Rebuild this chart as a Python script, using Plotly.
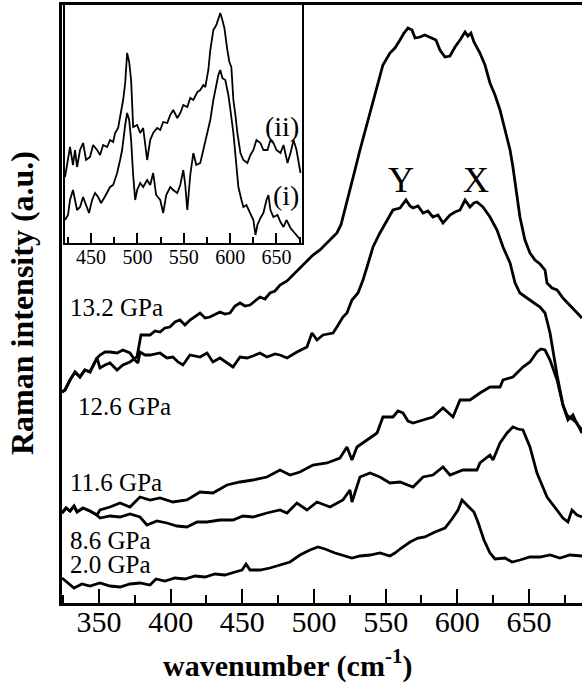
import plotly.graph_objects as go

# ---------------- main panel: wavenumber (cm^-1) vs Raman intensity (a.u.) ----------------
wn_20 = [324.2, 328.4, 332.6, 338.1, 343.7, 350.7, 357.7, 364.7, 371.6, 378.6, 385.6, 389.8, 396.0, 403.0,
         410.0, 417.0, 424.0, 430.9, 437.9, 444.9, 449.8, 452.6, 455.4, 462.3, 469.3, 476.3, 483.3, 490.2,
         497.2, 502.8, 507.7, 514.7, 521.6, 526.5, 532.1, 539.1, 546.0, 553.0, 556.5, 560.0, 567.0, 572.6,
         577.4, 584.4, 591.4, 596.3, 600.5, 603.3, 607.4, 611.6, 614.4, 618.6, 622.8, 626.3, 633.3, 638.2,
         643.7, 650.7, 657.7, 664.7, 671.6, 678.6, 687.0]
int_20 = [25, 20, 15, 19, 17, 20, 17, 16, 19, 20, 18, 24, 22, 25, 24, 27, 26, 29, 28, 31, 33, 39, 33, 33, 35,
          38, 41, 48, 53, 56, 54, 50, 47, 45, 47, 48, 50, 47, 50, 54, 61, 65, 66, 71, 75, 84, 93, 103, 97, 91,
          81, 63, 50, 44, 45, 41, 43, 46, 46, 48, 45, 48, 47]

wn_86 = [324.2, 327.0, 329.8, 332.6, 334.7, 338.8, 343.7, 348.6, 350.7, 357.7, 364.7, 371.6, 378.6, 383.5,
         390.4, 397.4, 404.4, 411.4, 418.4, 425.4, 434.4, 443.5, 450.5, 457.4, 467.2, 476.3, 481.2, 488.1,
         495.1, 502.1, 511.2, 520.2, 525.1, 526.5, 532.1, 539.1, 546.0, 553.0, 560.0, 569.1, 576.1, 583.0,
         590.0, 594.9, 604.0, 613.7, 615.8, 622.8, 624.9, 629.8, 634.7, 638.8, 642.3, 645.8, 650.7, 655.6,
         662.6, 669.6, 673.7, 677.2, 680.0, 683.5, 687.0]
int_86 = [90, 95, 92, 97, 91, 95, 92, 88, 85, 87, 86, 89, 86, 78, 82, 80, 77, 76, 81, 81, 83, 83, 87, 86, 90,
          93, 90, 100, 93, 101, 96, 103, 113, 101, 126, 130, 126, 120, 121, 116, 126, 128, 136, 128, 133, 133,
          140, 148, 143, 160, 170, 176, 174, 173, 156, 130, 106, 93, 85, 81, 93, 88, 86]

wn_116 = [324.2, 327.0, 329.8, 332.6, 334.7, 338.8, 343.7, 348.6, 350.7, 357.7, 364.7, 371.6, 378.6, 385.6,
          392.6, 401.6, 411.4, 420.5, 429.5, 439.3, 448.4, 457.4, 467.2, 476.3, 483.3, 490.2, 499.3, 509.1,
          518.1, 523.0, 526.5, 530.0, 537.0, 544.0, 548.1, 555.1, 558.6, 562.1, 565.6, 569.1, 576.1, 583.0,
          590.0, 597.0, 601.9, 608.8, 615.8, 622.8, 629.8, 631.9, 638.8, 645.8, 650.7, 655.6, 658.4, 661.2,
          664.7, 669.6, 673.7, 677.2, 680.7, 683.5, 687.0]
int_116 = [90, 95, 92, 97, 91, 95, 92, 88, 93, 96, 100, 96, 106, 103, 105, 101, 103, 111, 110, 118, 121, 123,
           126, 133, 128, 131, 138, 140, 145, 156, 143, 156, 163, 170, 186, 186, 192, 190, 182, 180, 183, 186,
           195, 186, 203, 203, 210, 216, 216, 223, 226, 236, 241, 251, 254, 253, 243, 223, 198, 183, 188, 179, 173]

wn_126 = [324.2, 326.3, 329.8, 333.3, 336.7, 340.2, 343.7, 347.2, 348.6, 350.7, 354.2, 357.7, 362.6, 366.7,
          371.6, 375.1, 377.2, 378.6, 382.1, 385.6, 392.6, 397.4, 401.6, 405.1, 408.6, 413.5, 420.5, 425.4,
          429.5, 434.4, 439.3, 443.5, 448.4, 453.3, 457.4, 462.3, 467.2, 472.8, 476.3, 481.2, 488.1, 495.1,
          498.6, 502.1, 506.3, 513.3, 516.0, 520.2, 523.0, 526.5, 530.7, 534.2, 537.0, 541.2, 546.0, 550.9,
          555.1, 560.0, 564.2, 567.0, 569.1, 572.6, 576.1, 579.5, 583.0, 586.5, 590.0, 594.9, 598.4, 601.9,
          605.4, 608.8, 611.6, 613.7, 617.9, 622.8, 627.7, 631.9, 636.8, 640.3, 643.7, 648.6, 652.8, 657.7,
          661.2, 664.7, 669.6, 673.7, 676.5, 680.7, 683.5, 687.0]
int_126 = [211, 213, 223, 231, 226, 233, 231, 240, 245, 248, 251, 251, 250, 253, 250, 243, 240, 251, 248, 248,
           250, 245, 246, 241, 238, 248, 246, 250, 241, 245, 240, 236, 246, 245, 247, 250, 246, 249, 248, 245,
           251, 256, 270, 263, 268, 270, 276, 286, 290, 303, 310, 323, 336, 356, 370, 383, 393, 395, 403, 397,
           395, 397, 390, 392, 386, 388, 380, 388, 391, 393, 403, 396, 400, 401, 396, 386, 373, 356, 340, 320,
           310, 305, 301, 296, 290, 270, 228, 198, 188, 183, 180, 170]

wn_132 = [324.2, 326.3, 329.8, 333.3, 336.7, 340.2, 343.7, 347.2, 348.6, 350.7, 354.2, 357.7, 362.6, 366.7,
          371.6, 376.5, 377.9, 379.3, 385.6, 389.1, 392.6, 396.0, 399.5, 403.0, 406.5, 410.0, 413.5, 420.5,
          424.0, 427.4, 434.4, 437.9, 441.4, 444.9, 448.4, 451.9, 455.4, 462.3, 465.8, 469.3, 472.8, 476.3,
          481.2, 483.3, 488.1, 492.3, 499.3, 504.2, 507.7, 511.2, 516.0, 518.8, 521.6, 525.1, 528.6, 532.1,
          534.9, 537.0, 541.2, 544.7, 548.1, 553.0, 556.5, 560.0, 562.8, 565.6, 568.4, 570.5, 574.0, 577.4,
          580.9, 585.1, 587.9, 591.4, 594.9, 598.4, 601.9, 605.4, 607.4, 609.5, 611.6, 615.8, 619.3, 622.8,
          626.3, 629.8, 633.3, 636.8, 638.8, 641.6, 643.7, 647.2, 650.7, 654.2, 657.7, 661.2, 662.6, 666.1,
          669.6, 673.7, 678.6, 682.1, 687.0]
int_132 = [211, 213, 223, 231, 226, 233, 231, 240, 245, 235, 238, 240, 233, 238, 241, 246, 258, 268, 268, 272,
           271, 275, 276, 281, 283, 278, 283, 290, 285, 286, 291, 289, 290, 297, 300, 297, 298, 306, 304, 310,
           312, 318, 322, 325, 331, 337, 348, 353, 358, 363, 370, 378, 393, 413, 433, 453, 468, 478, 503, 520,
           538, 550, 555, 563, 570, 575, 573, 565, 566, 568, 566, 563, 553, 546, 547, 556, 563, 571, 567, 570,
           561, 550, 538, 520, 508, 493, 473, 453, 436, 408, 386, 363, 350, 343, 339, 333, 320, 315, 313, 305,
           298, 293, 285]

pressure_labels = ["13.2 GPa", "12.6 GPa", "11.6 GPa", "8.6 GPa", "2.0 GPa"]
main_xticks = [350, 400, 450, 500, 550, 600, 650]

# ---------------- inset: spectra (i) and (ii) ----------------
wn_ii = [421.9, 425.1, 427.3, 430.5, 432.7, 434.9, 438.1, 441.4, 444.6, 448.9, 452.2, 456.5, 459.7, 463.0,
         467.3, 470.5, 473.8, 475.9, 479.2, 481.3, 484.6, 486.8, 488.9, 491.1, 493.2, 495.4, 499.7, 503.0,
         506.2, 510.5, 513.8, 517.0, 521.3, 524.6, 527.8, 532.2, 535.4, 538.6, 543.0, 546.2, 549.5, 553.8,
         557.0, 560.3, 564.6, 567.8, 571.1, 573.2, 576.5, 578.6, 581.9, 585.1, 587.3, 589.4, 591.6, 593.8,
         597.0, 599.2, 601.3, 603.5, 605.7, 607.8, 611.1, 614.3, 618.6, 621.9, 625.1, 628.4, 632.7, 635.9,
         640.3, 643.5, 646.7, 650.0, 654.3, 657.6, 661.9, 665.1, 668.4, 671.6, 675.9]
int_ii = [66, 83, 96, 78, 93, 76, 93, 100, 83, 86, 98, 93, 88, 98, 96, 103, 101, 110, 115, 126, 143, 160, 190,
          181, 163, 116, 118, 110, 115, 83, 103, 110, 115, 113, 121, 120, 128, 133, 125, 130, 138, 136, 145, 143,
          151, 153, 158, 156, 173, 193, 213, 218, 225, 230, 223, 215, 193, 181, 176, 143, 128, 110, 90, 83, 80,
          88, 93, 103, 100, 93, 93, 103, 100, 93, 90, 98, 80, 90, 103, 93, 70]

wn_i = [421.9, 425.1, 427.3, 430.5, 432.7, 434.9, 438.1, 441.4, 444.6, 447.8, 451.1, 454.3, 457.6, 460.8,
        464.1, 467.3, 470.5, 473.8, 478.1, 481.3, 483.5, 486.8, 488.9, 491.1, 493.2, 495.4, 497.6, 499.7,
        503.0, 506.2, 510.5, 513.8, 517.0, 520.2, 524.6, 527.8, 531.1, 535.4, 538.6, 543.0, 546.2, 549.5,
        551.6, 553.8, 557.0, 560.3, 563.5, 567.8, 571.1, 575.4, 578.6, 581.9, 585.1, 587.3, 589.4, 591.6,
        594.8, 598.1, 600.3, 603.5, 606.7, 608.9, 612.2, 614.3, 617.6, 621.9, 625.1, 627.3, 629.4, 632.7,
        635.9, 639.2, 641.3, 643.5, 646.7, 651.1, 654.3, 657.6, 660.8, 665.1, 668.4, 671.6, 675.9]
int_i = [23, 28, 43, 53, 43, 33, 36, 46, 38, 30, 43, 50, 46, 40, 45, 51, 56, 58, 70, 83, 93, 118, 130, 123, 103,
         68, 43, 53, 60, 56, 63, 58, 70, 48, 43, 30, 48, 56, 53, 50, 58, 73, 58, 33, 68, 90, 78, 80, 93, 110,
         123, 143, 158, 168, 173, 165, 163, 148, 133, 110, 78, 56, 43, 36, 38, 30, 23, 8, 18, 25, 30, 43, 48,
         33, 26, 28, 21, 16, 23, 15, 11, 8, 3]

inset_xticks = [450, 500, 550, 600, 650]

FONT = "Liberation Serif"

fig = go.Figure()
for wn, it in [(wn_20, int_20), (wn_86, int_86), (wn_116, int_116), (wn_126, int_126), (wn_132, int_132)]:
    fig.add_trace(go.Scatter(x=wn, y=it, mode="lines", line=dict(color="black", width=2.8),
                             xaxis="x", yaxis="y", hoverinfo="skip", showlegend=False))
for wn, it in [(wn_i, int_i), (wn_ii, int_ii)]:
    fig.add_trace(go.Scatter(x=wn, y=it, mode="lines", line=dict(color="black", width=1.8),
                             xaxis="x2", yaxis="y2", hoverinfo="skip", showlegend=False))

axis_common = dict(showgrid=False, zeroline=False, linecolor="black", tickcolor="black")

fig.update_layout(
    width=582, height=685,
    margin=dict(l=62, r=0, t=5, b=82),
    paper_bgcolor="white", plot_bgcolor="white",
    showlegend=False,
    font=dict(family=FONT, color="black"),
    xaxis=dict(domain=[0, 1], range=[324.2, 687.0], showline=True, linewidth=3, mirror=True,
               ticks="inside", ticklen=14, tickwidth=2, tickvals=main_xticks,
               ticktext=[str(v) for v in main_xticks], ticklabelstandoff=-10,
               minor=dict(dtick=25, tick0=325, ticklen=8, tickwidth=2, ticks="inside", tickcolor="black"),
               tickfont=dict(family=FONT, size=30, color="black"), **axis_common),
    yaxis=dict(domain=[0, 1], range=[0, 598], showline=True, linewidth=3, mirror=False,
               showticklabels=False, ticks="", **axis_common),
    xaxis2=dict(domain=[0.0058, 0.4615], anchor="y2", range=[421.9, 677.5], showline=True, linewidth=2,
                mirror=True, ticks="inside", ticklen=10, tickwidth=2, tickvals=inset_xticks,
                ticktext=[str(v) for v in inset_xticks], ticklabelstandoff=-5,
                minor=dict(dtick=25, tick0=425, ticklen=6, tickwidth=2, ticks="inside", tickcolor="black"),
                tickfont=dict(family=FONT, size=20, color="black"), **axis_common),
    yaxis2=dict(domain=[0.602, 1.0], anchor="x2", range=[0, 238], showline=True, linewidth=2, mirror=True,
                showticklabels=False, ticks="", **axis_common),
)

def px_x(p):
    return (p - 62) / 520.0

def px_y(p):
    return (603 - p) / 598.0

ann = []
label_pos = [(68, 307), (76, 406), (68, 482), (68, 540), (68, 564)]
for txt, (lx, ly) in zip(pressure_labels, label_pos):
    ann.append(dict(text=txt, x=px_x(lx), y=px_y(ly), xref="paper", yref="paper", xanchor="left",
                    yanchor="middle", showarrow=False, font=dict(family=FONT, size=25, color="black")))
ann.append(dict(text="Y", x=px_x(401), y=px_y(180), xref="paper", yref="paper", showarrow=False,
                xanchor="center", yanchor="middle", font=dict(family=FONT, size=36, color="black")))
ann.append(dict(text="X", x=px_x(476), y=px_y(180), xref="paper", yref="paper", showarrow=False,
                xanchor="center", yanchor="middle", font=dict(family=FONT, size=36, color="black")))
ann.append(dict(text="(ii)", x=px_x(301), y=px_y(127), xref="paper", yref="paper", showarrow=False,
                xanchor="right", yanchor="middle", font=dict(family=FONT, size=28, color="black")))
ann.append(dict(text="(i)", x=px_x(301), y=px_y(195), xref="paper", yref="paper", showarrow=False,
                xanchor="right", yanchor="middle", font=dict(family=FONT, size=28, color="black")))
ann.append(dict(text="<b>Raman intensity (a.u.)</b>", x=px_x(22), y=px_y(303), xref="paper", yref="paper",
                showarrow=False, textangle=-90, xanchor="center", yanchor="middle",
                font=dict(family=FONT, size=32, color="black")))
ann.append(dict(text="<b>wavenumber (cm<sup>-1</sup>)</b>", x=px_x(287), y=px_y(663), xref="paper",
                yref="paper", showarrow=False, xanchor="center", yanchor="middle",
                font=dict(family=FONT, size=30, color="black")))
fig.update_layout(annotations=ann)

fig.write_html("out.html", config={"displayModeBar": False},
               post_script="document.body.style.margin='0';document.body.style.overflow='hidden';")
